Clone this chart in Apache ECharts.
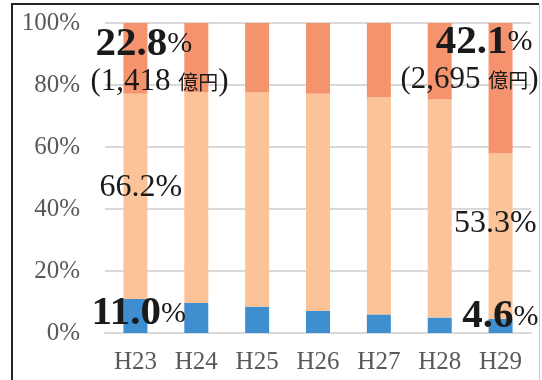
<!DOCTYPE html>
<html>
<head>
<meta charset="utf-8">
<script src="https://cdn.jsdelivr.net/npm/echarts@6/dist/echarts.min.js"></script>
<style>
  html, body { margin: 0; padding: 0; background: #fff; }
  #chart { width: 542px; height: 380px; }
</style>
</head>
<body>
<div id="chart"></div>
<script>
// 年度
var categories = ['H23', 'H24', 'H25', 'H26', 'H27', 'H28', 'H29'];
// 構成比 (%)
var bottomShare = [11.0, 9.7, 8.5, 7.1, 6.0, 5.0, 4.6];
var middleShare = [66.2, 68.0, 69.1, 70.1, 70.1, 70.3, 53.3];
var topShare = [22.8, 22.3, 22.4, 22.8, 23.9, 24.7, 42.1];
var yTicks = [0, 20, 40, 60, 80, 100];
// 金額 (億円)
var topAmount = ['1,418', '', '', '', '', '', '2,695'];

var serif = '"Liberation Serif", "DejaVu Serif", "Noto Sans CJK JP", serif';
var ink = '#1a1a1a';

var rich = {
    big: { fontFamily: serif, fontSize: 41, fontWeight: 'bold', color: ink },
    bigL: { fontFamily: serif, fontSize: 41, fontWeight: 'bold', color: ink, padding: [0, 0, 0, 5] },
    pct: { fontFamily: serif, fontSize: 30, color: ink },
    pctR: { fontFamily: serif, fontSize: 30, color: ink, padding: [0, 6, 0, 0] },
    num: { fontFamily: serif, fontSize: 31, color: ink },
    unit: { fontFamily: '"Noto Sans CJK JP", sans-serif', fontSize: 20, color: ink },
    mid: { fontFamily: serif, fontSize: 32, color: ink }
};

function withLabel(values, idx, label) {
    return values.map(function (v, i) {
        if (i !== idx) return v;
        return { value: v, label: Object.assign({ show: true, rich: rich }, label) };
    });
}

var last = categories.length - 1;

var bottomData = withLabel(bottomShare, 0, {
    position: [-32, 15], align: 'left', verticalAlign: 'middle',
    formatter: '{big|' + bottomShare[0].toFixed(1) + '}{pct|%}'
});
bottomData[last] = {
    value: bottomShare[last],
    label: { show: true, rich: rich, position: [50, -2], align: 'right', verticalAlign: 'middle',
        formatter: '{big|' + bottomShare[last].toFixed(1) + '}{pct|%}' }
};

var middleData = withLabel(middleShare, 0, {
    position: [-24, 94], align: 'left', verticalAlign: 'middle',
    formatter: '{mid|' + middleShare[0].toFixed(1) + '%}'
});
middleData[last] = {
    value: middleShare[last],
    label: { show: true, rich: rich, position: [48, 70], align: 'right', verticalAlign: 'middle',
        formatter: '{mid|' + middleShare[last].toFixed(1) + '%}' }
};

var topData = withLabel(topShare, 0, {
    position: [-33, 2], align: 'left', verticalAlign: 'top',
    formatter: '{bigL|' + topShare[0].toFixed(1) + '}{pct|%}\n{num|(' + topAmount[0] + ' }{unit|億円}{num|)}',
    lineHeight: 38
});
topData[last] = {
    value: topShare[last],
    label: { show: true, rich: rich, position: [50, 0], align: 'right', verticalAlign: 'top',
        formatter: '{big|' + topShare[last].toFixed(1) + '}{pctR|%}\n{num|(' + topAmount[last] + ' }{unit|億円}{num|)}',
        lineHeight: 38 }
};

var chart = echarts.init(document.getElementById('chart'));
var option = {
    animation: false,
    backgroundColor: '#fff',
    grid: { left: 105, right: 11, top: 23, bottom: 47 },
    xAxis: {
        type: 'category',
        data: categories,
        axisLine: { lineStyle: { color: '#d9d9d9', width: 2 } },
        axisTick: { show: false },
        axisLabel: { fontFamily: serif, fontSize: 25, color: '#595959', margin: 17 }
    },
    yAxis: {
        type: 'value',
        min: yTicks[0],
        max: yTicks[yTicks.length - 1],
        interval: 20,
        axisLine: { show: false },
        axisTick: { show: false },
        splitLine: { lineStyle: { color: '#d9d9d9', width: 2 } },
        axisLabel: { fontFamily: serif, fontSize: 25, color: '#595959', margin: 25, formatter: '{value}%' }
    },
    series: [
        { name: 'bottom', type: 'bar', stack: 'total', barWidth: 24, itemStyle: { color: '#3f8fd0' }, data: bottomData },
        { name: 'middle', type: 'bar', stack: 'total', barWidth: 24, itemStyle: { color: '#fbc397' }, data: middleData },
        { name: 'top', type: 'bar', stack: 'total', barWidth: 24, itemStyle: { color: '#f6936f' }, data: topData }
    ],
    graphic: [
        { type: 'line', shape: { x1: 12, y1: 3, x2: 12, y2: 380 }, style: { stroke: '#222', lineWidth: 2 } },
        { type: 'line', shape: { x1: 11, y1: 4, x2: 539, y2: 4 }, style: { stroke: '#222', lineWidth: 2 } },
        { type: 'line', shape: { x1: 539.5, y1: 4, x2: 539.5, y2: 380 }, style: { stroke: '#c8c8c8', lineWidth: 1 } }
    ]
};
chart.setOption(option);
</script>
</body>
</html>
